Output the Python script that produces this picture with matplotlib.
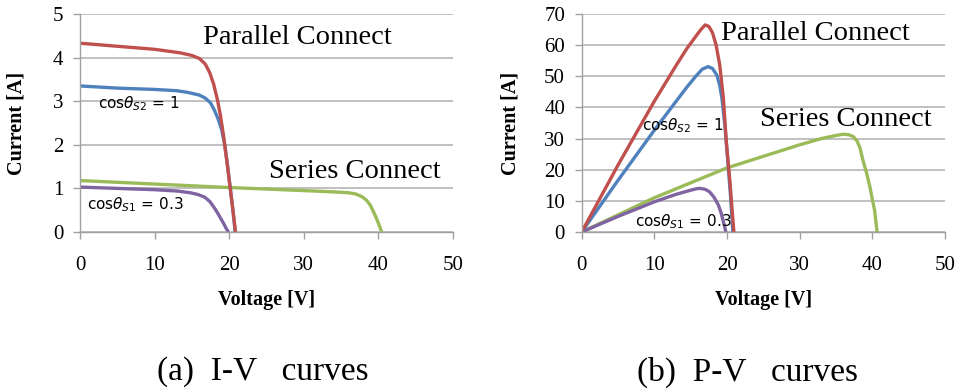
import matplotlib
matplotlib.use("Agg")
import matplotlib.pyplot as plt

# ---- I-V data (left) ----
iv_par_v = [0, 5, 10, 13.4, 15, 16, 16.8, 17.4, 17.9, 18.4, 18.8, 19.25, 19.7, 20.1, 20.5, 20.85]
iv_par_i = [4.33, 4.26, 4.19, 4.11, 4.05, 3.98, 3.85, 3.65, 3.4, 3.05, 2.7, 2.2, 1.6, 1.05, 0.5, 0.0]
iv_s2_v = [0, 5, 10, 13, 14.5, 16, 16.8, 17.5, 18.0, 18.5, 19.0, 19.4, 19.8, 20.15, 20.5, 20.8]
iv_s2_i = [3.35, 3.3, 3.27, 3.24, 3.2, 3.14, 3.07, 2.96, 2.8, 2.6, 2.34, 2.0, 1.5, 1.0, 0.5, 0.0]
iv_s1_v = [0, 5, 10, 13, 14.8, 15.8, 16.7, 17.4, 17.9, 18.4, 18.9, 19.3, 19.6, 19.9]
iv_s1_i = [1.03, 1.0, 0.97, 0.94, 0.9, 0.86, 0.8, 0.7, 0.58, 0.45, 0.3, 0.18, 0.08, 0.0]
iv_ser_v = [0, 10, 20, 30, 34, 36, 37, 37.8, 38.4, 38.9, 39.3, 39.7, 40.05, 40.45]
iv_ser_i = [1.18, 1.1, 1.02, 0.95, 0.92, 0.9, 0.87, 0.81, 0.73, 0.62, 0.48, 0.33, 0.18, 0.0]

# ---- P-V data (right) ----
pv_par_v = [0, 5, 10, 13, 14.5, 15.6, 16.4, 17.0, 17.5, 18.0, 18.5, 19.0, 19.5, 19.9, 20.4, 20.7, 20.95]
pv_par_p = [0, 21.5, 42, 53.5, 59, 62.5, 65, 66.5, 66, 64, 60, 53.6, 43, 29, 16.2, 7, 0.0]
pv_s2_v = [0, 5, 10, 13, 14.5, 15.7, 16.6, 17.4, 18.0, 18.6, 19.0, 19.3, 19.7, 20.1, 20.5, 20.8]
pv_s2_p = [0, 16.6, 32.7, 42, 46.6, 50, 52.3, 53.1, 52.5, 50.4, 47, 42.9, 34.4, 23, 11, 0.0]
pv_s1_v = [0, 5, 10, 13, 14.8, 15.8, 16.3, 17.0, 17.6, 18.2, 18.8, 19.2, 19.5, 19.85]
pv_s1_p = [0, 5.0, 9.7, 12.1, 13.3, 13.9, 14.0, 13.7, 12.9, 11.2, 8.7, 6.0, 3.3, 0.0]
pv_ser_v = [0, 10, 20, 30, 33, 35, 36.0, 36.8, 37.4, 37.9, 38.3, 38.7, 39.2, 39.66, 40.0, 40.3, 40.66]
pv_ser_p = [0, 11, 20.6, 28.0, 30.0, 31.0, 31.4, 31.2, 30.6, 29.2, 27.0, 23.1, 19.0, 14.5, 10.5, 7.1, 0.0]

x_ticks = [0, 10, 20, 30, 40, 50]
iv_y_ticks = [0, 1, 2, 3, 4, 5]
pv_y_ticks = [0, 10, 20, 30, 40, 50, 60, 70]

RED = "#C0504D"
BLUE = "#4F81BD"
GREEN = "#9BBB59"
PURPLE = "#8064A2"

SERIF = ["Liberation Serif", "DejaVu Serif"]
plt.rcParams["font.family"] = SERIF
plt.rcParams["mathtext.fontset"] = "dejavusans"

fig = plt.figure(figsize=(9.6, 3.92), dpi=100)
ax1 = fig.add_axes([80 / 960, 1 - 232 / 392, 373 / 960, 218 / 392])
ax2 = fig.add_axes([581.7 / 960, 1 - 232 / 392, 363.3 / 960, 218 / 392])


def style(ax, yticks):
    ax.set_xlim(0, 50)
    ax.set_ylim(yticks[0], yticks[-1])
    ax.set_xticks(x_ticks)
    ax.set_yticks(yticks)
    ax.grid(axis="y", color="#B5B5B5", linewidth=1.2)
    ax.set_axisbelow(True)
    for s in ("top", "right"):
        ax.spines[s].set_visible(False)
    for s in ("left", "bottom"):
        ax.spines[s].set_color("#A0A0A0")
        ax.spines[s].set_linewidth(1.0)
    ax.tick_params(axis="x", direction="out", length=5, width=1.0, color="#A0A0A0",
                   labelsize=15, pad=12)
    ax.tick_params(axis="y", direction="out", length=5, width=1.0, color="#A0A0A0",
                   labelsize=15, pad=7)
    for lab in ax.get_xticklabels() + ax.get_yticklabels():
        lab.set_family(SERIF)
    ax.set_xlabel("Voltage [V]", fontsize=14.5, fontweight="bold", labelpad=11)
    ax.set_ylabel("Current [A]", fontsize=14.5, fontweight="bold")


LW = 2.4
ax1.plot(iv_ser_v, iv_ser_i, color=GREEN, lw=LW, solid_capstyle="butt", solid_joinstyle="round")
ax1.plot(iv_s1_v, iv_s1_i, color=PURPLE, lw=LW, solid_capstyle="butt", solid_joinstyle="round")
ax1.plot(iv_s2_v, iv_s2_i, color=BLUE, lw=LW, solid_capstyle="butt", solid_joinstyle="round")
ax1.plot(iv_par_v, iv_par_i, color=RED, lw=LW, solid_capstyle="butt", solid_joinstyle="round")
style(ax1, iv_y_ticks)
ax1.yaxis.set_label_coords(-53 / 373, 0.5)

ax2.plot(pv_ser_v, pv_ser_p, color=GREEN, lw=LW, solid_capstyle="butt", solid_joinstyle="round")
ax2.plot(pv_s1_v, pv_s1_p, color=PURPLE, lw=LW, solid_capstyle="butt", solid_joinstyle="round")
ax2.plot(pv_s2_v, pv_s2_p, color=BLUE, lw=LW, solid_capstyle="butt", solid_joinstyle="round")
ax2.plot(pv_par_v, pv_par_p, color=RED, lw=LW, solid_capstyle="butt", solid_joinstyle="round")
style(ax2, pv_y_ticks)
ax2.yaxis.set_label_coords(-61 / 363.3, 0.5)

# Annotations (left)
ax1.text(16.5, 4.45, "Parallel Connect", fontsize=20.5, family=SERIF, va="center", ha="left")
ax1.text(25.4, 1.38, "Series Connect", fontsize=20.5, family=SERIF, va="center", ha="left")
ax1.text(2.4, 2.94, r"cos$\theta_{S2}$ = 1", fontsize=11, family=["DejaVu Sans"],
         va="center", ha="left")
ax1.text(1.0, 0.62, r"cos$\theta_{S1}$ = 0.3", fontsize=11, family=["DejaVu Sans"],
         va="center", ha="left")

# Annotations (right)
ax2.text(19.2, 63.6, "Parallel Connect", fontsize=20.5, family=SERIF, va="center", ha="left")
ax2.text(24.5, 36.0, "Series Connect", fontsize=20.5, family=SERIF, va="center", ha="left")
ax2.text(8.3, 34.0, r"cos$\theta_{S2}$ = 1", fontsize=11, family=["DejaVu Sans"],
         va="center", ha="left")
ax2.text(7.3, 3.4, r"cos$\theta_{S1}$ = 0.3", fontsize=11, family=["DejaVu Sans"],
         va="center", ha="left")

# Captions
fig.text(157 / 960, 1 - 372 / 392, "(a)  I-V   curves", fontsize=24, family=SERIF,
         ha="left", va="center")
fig.text(637 / 960, 1 - 372 / 392, "(b)  P-V   curves", fontsize=24, family=SERIF,
         ha="left", va="center")

fig.savefig("out.png", dpi=100)
